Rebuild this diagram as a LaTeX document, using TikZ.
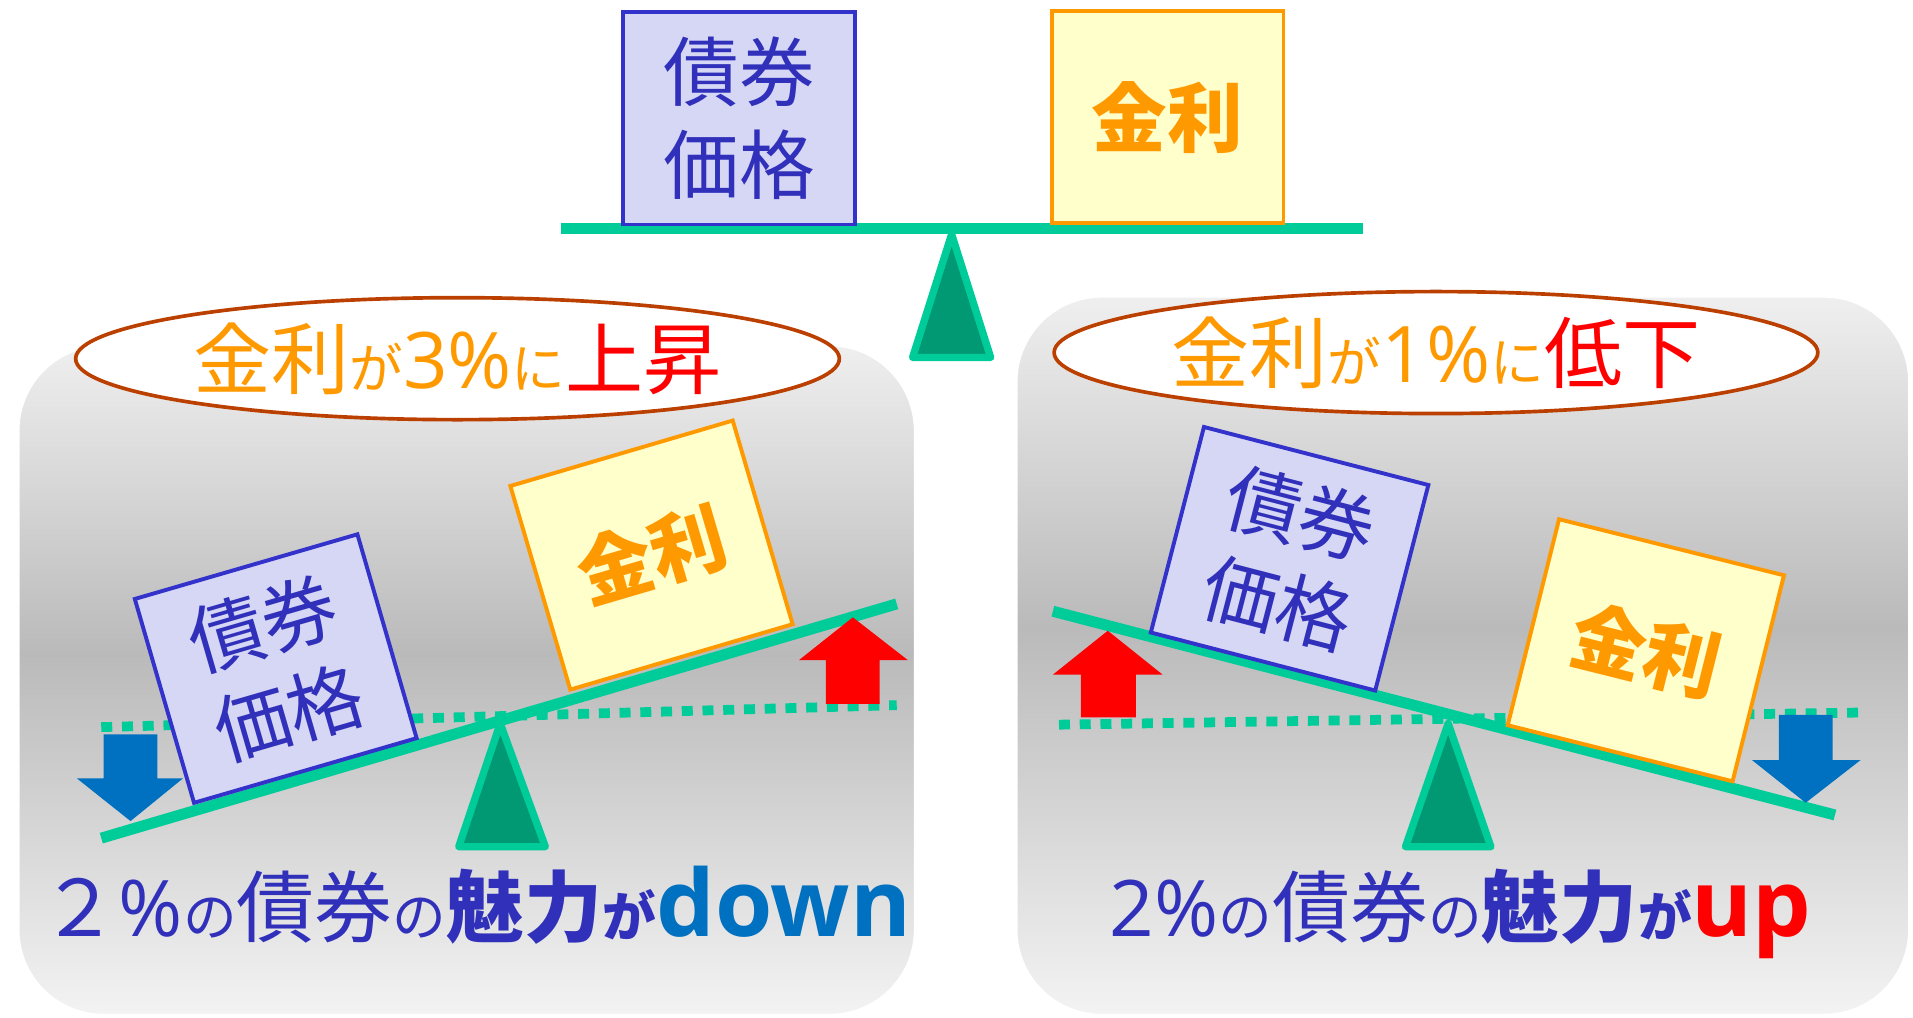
\documentclass[tikz,border=0pt]{standalone}
\usepackage{fontspec}
\newfontfamily\jp{Noto Sans CJK JP}
\newfontfamily\lat{Open Sans}
\usetikzlibrary{shapes.geometric}

\definecolor{bondblue}{HTML}{3333CC}
\definecolor{bondtext}{HTML}{3030BB}
\definecolor{bondfill}{HTML}{D6D6F5}
\definecolor{rateorange}{HTML}{FF9900}
\definecolor{ratefill}{HTML}{FFFFCC}
\definecolor{beamgreen}{HTML}{00CC99}
\definecolor{pivotgreen}{HTML}{009973}
\definecolor{ovalline}{HTML}{BB4000}
\definecolor{downblue}{HTML}{0070C0}
\definecolor{upred}{HTML}{FF0000}
\definecolor{pnltop}{HTML}{EFEFEF}
\definecolor{pnldark}{HTML}{BABABA}
\definecolor{pnlbottom}{HTML}{F3F3F3}
\pgfdeclareverticalshading{panelshade}{100bp}{color(0bp)=(pnlbottom); color(25bp)=(pnlbottom); color(52bp)=(pnldark); color(75bp)=(pnltop); color(100bp)=(pnltop)}

\newcommand{\bigtxt}{\fontsize{64}{78}\selectfont}
\newcommand{\kana}{\fontsize{44}{50}\selectfont}
\newcommand{\trend}{\fontsize{76}{80}\selectfont}

\begin{document}
\begin{tikzpicture}
      [x=1pt,y=1pt,
        panel/.style={draw=white,line width=2pt,rounded corners=70pt,shading=panelshade},
        bondbox/.style={draw=bondblue,fill=bondfill,line width=3.2pt,minimum width=190pt,
          minimum height=174pt,inner sep=0pt,align=center,text=bondtext,
          font=\jp\fontsize{62}{76}\selectfont},
        ratebox/.style={draw=rateorange,fill=ratefill,line width=3.2pt,minimum width=190pt,
          minimum height=174pt,inner sep=0pt,text=rateorange,
          font=\jp\bfseries\fontsize{62}{76}\selectfont},
        beam/.style={line width=9pt,beamgreen},
        pivot/.style={draw=beamgreen,fill=pivotgreen,line width=6pt,line join=round},
        level/.style={beamgreen,line width=8pt,dash pattern=on 9pt off 8pt},
        oval/.style={ellipse,draw=ovalline,fill=white,line width=3pt,inner sep=0pt,
          minimum width=626pt,minimum height=100pt,font=\jp\bigtxt},
        slogan/.style={anchor=base,text=bondtext,font=\jp\bigtxt}]
  \useasboundingbox (0,0) rectangle (1568,834);
  \path[panel] (15,2) rectangle (750,551);
  \path[panel] (833,2) rectangle (1565,591);

  \draw[beam] (460,647) -- (1117,647);
  \draw[pivot] (780,642) -- (812,541) -- (748,541) -- cycle;
  \node[bondbox] (topbond) at (606,737) {債券\\価格};
  \node[ratebox] (toprate) at (957,738) {金利};

  \node[oval] (riseoval) at (375,540)
    {\color{rateorange}金利{\kana が}{\lat 3\%}{\kana に}\color{upred}上昇};
  \node[oval] (falloval) at (1177,545)
    {\color{rateorange}金利{\kana が}{\lat 1\%}{\kana に}\color{upred}低下};

  \draw[level] (83,238) -- (735,256);
  \draw[beam] (83,147) -- (735,339);
  \draw[pivot] (410,241) -- (447,140) -- (376,140) -- cycle;
  \fill[downblue] (85,232) -- (129,232) -- (129,196) -- (150,196) -- (107,161)
    -- (63,196) -- (85,196) -- cycle;
  \fill[upred] (677,257) -- (721,257) -- (721,293) -- (744,293) -- (699,328)
    -- (655,293) -- (677,293) -- cycle;
  \node[bondbox,rotate=16.2] (risebond) at (226,286) {債券\\価格};
  \node[ratebox,rotate=16.4] (riserate) at (534,379) {金利};
  \node[slogan] (risetext) at (390,66)
    {２{\lat\%}{\kana の}債券{\kana の}{\bfseries 魅力{\kana が}}{\lat\bfseries\trend\color{downblue}down}};

  \draw[level] (868,240) -- (1527,250);
  \draw[beam] (863,333) -- (1504,166);
  \draw[pivot] (1187,241) -- (1222,140) -- (1152,140) -- cycle;
  \fill[upred] (886,246) -- (931,246) -- (931,281) -- (953,281) -- (908,317)
    -- (863,281) -- (886,281) -- cycle;
  \fill[downblue] (1458,248) -- (1502,248) -- (1502,211) -- (1525,211) -- (1480,176)
    -- (1436,211) -- (1458,211) -- cycle;
  \node[bondbox,rotate=-14.5] (fallbond) at (1057,376) {債券\\価格};
  \node[ratebox,rotate=-14] (fallrate) at (1349,301) {金利};
  \node[slogan] (falltext) at (1197,66)
    {{\lat 2\%}{\kana の}債券{\kana の}{\bfseries 魅力{\kana が}}{\lat\bfseries\trend\color{upred}up}};
\end{tikzpicture}
\end{document}
